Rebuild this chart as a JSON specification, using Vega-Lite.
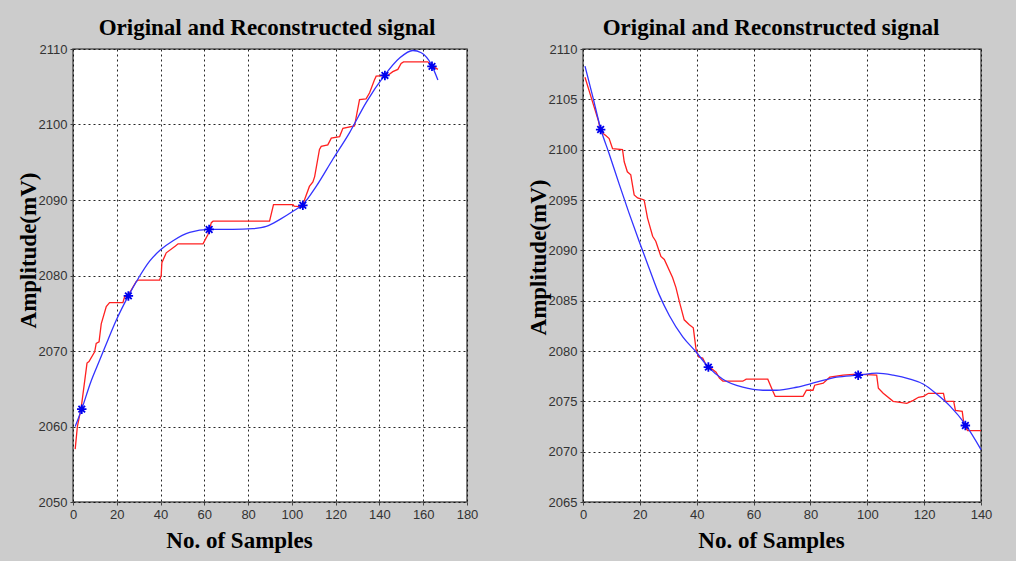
{
  "$schema": "https://vega.github.io/schema/vega-lite/v6.json",
  "background": "#cccccc",
  "autosize": {"type": "pad"},
  "padding": {"left": 16, "top": 16, "right": 25, "bottom": 16},
  "bounds": "flush",
  "spacing": 116,
  "datasets": {
    "leftOrig": [
      {"x": 1, "y": 2057}, {"x": 2, "y": 2060}, {"x": 3.8, "y": 2062.6}, {"x": 6.4, "y": 2068.4}, {"x": 7.3, "y": 2068.6},
      {"x": 9.9, "y": 2069.9}, {"x": 10.6, "y": 2071}, {"x": 11.9, "y": 2071.2}, {"x": 12.9, "y": 2073.6}, {"x": 15.2, "y": 2075.9},
      {"x": 16.7, "y": 2076.4}, {"x": 22.8, "y": 2076.4}, {"x": 23.6, "y": 2077.2}, {"x": 25.1, "y": 2077.3}, {"x": 28.9, "y": 2079.2},
      {"x": 29.8, "y": 2079.4}, {"x": 39.6, "y": 2079.4}, {"x": 40.3, "y": 2080}, {"x": 40.6, "y": 2081.7}, {"x": 42.6, "y": 2083},
      {"x": 46.8, "y": 2083.9}, {"x": 48, "y": 2084.2}, {"x": 59.4, "y": 2084.2}, {"x": 61.6, "y": 2085.4}, {"x": 63.2, "y": 2087},
      {"x": 64, "y": 2087.2}, {"x": 89.8, "y": 2087.2}, {"x": 91.6, "y": 2089.4}, {"x": 100.5, "y": 2089.4}, {"x": 101, "y": 2089.2},
      {"x": 104.3, "y": 2089.1}, {"x": 105, "y": 2089.4}, {"x": 108, "y": 2091.8}, {"x": 109.6, "y": 2092.4}, {"x": 110.4, "y": 2093.1},
      {"x": 112.6, "y": 2096.7}, {"x": 113.4, "y": 2097.1}, {"x": 116.4, "y": 2097.3}, {"x": 118, "y": 2098.2}, {"x": 121.8, "y": 2098.4},
      {"x": 123.3, "y": 2099.5}, {"x": 128.6, "y": 2099.8}, {"x": 130.9, "y": 2103.3}, {"x": 133.9, "y": 2103.4}, {"x": 135.5, "y": 2104.2},
      {"x": 137.7, "y": 2105.9}, {"x": 138.5, "y": 2106.4}, {"x": 143.8, "y": 2106.5}, {"x": 146.1, "y": 2107}, {"x": 148.4, "y": 2107.3},
      {"x": 149.9, "y": 2108.1}, {"x": 151, "y": 2108.3}, {"x": 162.1, "y": 2108.3}, {"x": 164.4, "y": 2107.7}, {"x": 166.7, "y": 2107.3}
    ],
    "leftRecon": [
      {"x": 1, "y": 2060}, {"x": 4, "y": 2062.3}, {"x": 8, "y": 2065.8}, {"x": 12.2, "y": 2068.8}, {"x": 16, "y": 2071.5},
      {"x": 19.8, "y": 2074.1}, {"x": 25.3, "y": 2077.3}, {"x": 30, "y": 2079.7}, {"x": 35, "y": 2081.9}, {"x": 40, "y": 2083.4},
      {"x": 45.7, "y": 2084.6}, {"x": 53.3, "y": 2085.7}, {"x": 62.4, "y": 2086.1}, {"x": 73, "y": 2086.1}, {"x": 82.2, "y": 2086.2},
      {"x": 88.3, "y": 2086.5}, {"x": 94.4, "y": 2087.4}, {"x": 100.5, "y": 2088.5}, {"x": 105, "y": 2089.4}, {"x": 111.1, "y": 2091.8},
      {"x": 118.7, "y": 2095.4}, {"x": 126.3, "y": 2098.9}, {"x": 133.9, "y": 2102.9}, {"x": 142.3, "y": 2106.5}, {"x": 149.2, "y": 2108.8},
      {"x": 155.3, "y": 2109.8}, {"x": 159.1, "y": 2109.5}, {"x": 163.6, "y": 2108}, {"x": 166.7, "y": 2105.9}
    ],
    "leftStars": [
      {"x": 4, "y": 2062.3}, {"x": 25.3, "y": 2077.3}, {"x": 62.2, "y": 2086.1}, {"x": 105, "y": 2089.3}, {"x": 142.5, "y": 2106.5}, {"x": 164, "y": 2107.7}
    ],
    "rightOrig": [
      {"x": 0.7, "y": 2107.2}, {"x": 3.3, "y": 2104.8}, {"x": 5.4, "y": 2102.9}, {"x": 6.2, "y": 2101.8}, {"x": 8, "y": 2101.4},
      {"x": 9.2, "y": 2101.1}, {"x": 10.4, "y": 2100.1}, {"x": 13.9, "y": 2100}, {"x": 14.5, "y": 2098.8}, {"x": 15.6, "y": 2097.8},
      {"x": 16.8, "y": 2097.5}, {"x": 18, "y": 2095.5}, {"x": 19.2, "y": 2095.2}, {"x": 21.5, "y": 2095}, {"x": 22.7, "y": 2093.2},
      {"x": 24.5, "y": 2091.4}, {"x": 25.6, "y": 2090.9}, {"x": 27.4, "y": 2089.4}, {"x": 28.6, "y": 2089.1}, {"x": 31.5, "y": 2087.3},
      {"x": 32.7, "y": 2086.3}, {"x": 33.9, "y": 2084.9}, {"x": 35.6, "y": 2083.1}, {"x": 37.4, "y": 2082.6}, {"x": 38.8, "y": 2082.3},
      {"x": 39.8, "y": 2080.1}, {"x": 40.7, "y": 2079.4}, {"x": 42.1, "y": 2079.3}, {"x": 43.3, "y": 2078.6}, {"x": 44.5, "y": 2078.4},
      {"x": 46.8, "y": 2077.9}, {"x": 48, "y": 2077.3}, {"x": 49.2, "y": 2077}, {"x": 56.2, "y": 2077}, {"x": 57.4, "y": 2077.2},
      {"x": 65, "y": 2077.2}, {"x": 66.8, "y": 2076}, {"x": 67.6, "y": 2075.5}, {"x": 77.4, "y": 2075.5}, {"x": 78.6, "y": 2076.1},
      {"x": 80.9, "y": 2076.1}, {"x": 81.5, "y": 2076.6}, {"x": 84.5, "y": 2076.8}, {"x": 86.8, "y": 2077.4}, {"x": 91.5, "y": 2077.6},
      {"x": 96.2, "y": 2077.7}, {"x": 103.3, "y": 2077.6}, {"x": 103.9, "y": 2076.3}, {"x": 105.6, "y": 2075.8}, {"x": 109.1, "y": 2075},
      {"x": 113.9, "y": 2074.8}, {"x": 116.2, "y": 2075.1}, {"x": 118, "y": 2075.4}, {"x": 119.8, "y": 2075.5}, {"x": 121.5, "y": 2075.8},
      {"x": 126.8, "y": 2075.8}, {"x": 127.4, "y": 2075}, {"x": 130.4, "y": 2075}, {"x": 131, "y": 2074.1}, {"x": 133.4, "y": 2074},
      {"x": 134, "y": 2072.7}, {"x": 135.3, "y": 2072.1}, {"x": 140, "y": 2072.1}
    ],
    "rightRecon": [
      {"x": 0.7, "y": 2108.3}, {"x": 3.5, "y": 2105.2}, {"x": 6.2, "y": 2102.1}, {"x": 9.2, "y": 2099.6}, {"x": 12.7, "y": 2096.6},
      {"x": 16.2, "y": 2093.7}, {"x": 20, "y": 2090.7}, {"x": 23.3, "y": 2088.2}, {"x": 26.8, "y": 2085.6},
      {"x": 30.4, "y": 2083.5}, {"x": 35.1, "y": 2081.4}, {"x": 39.8, "y": 2079.9}, {"x": 44.1, "y": 2078.4}, {"x": 49.2, "y": 2077.2},
      {"x": 56.2, "y": 2076.4}, {"x": 63.3, "y": 2076.1}, {"x": 68, "y": 2076.1}, {"x": 75.1, "y": 2076.4}, {"x": 82.1, "y": 2076.9},
      {"x": 89.2, "y": 2077.4}, {"x": 96.8, "y": 2077.6}, {"x": 103.3, "y": 2077.8}, {"x": 109.1, "y": 2077.6}, {"x": 115, "y": 2077.2},
      {"x": 119.8, "y": 2076.7}, {"x": 124.5, "y": 2075.7}, {"x": 129.2, "y": 2074.5}, {"x": 134.5, "y": 2072.7}, {"x": 140, "y": 2070.2}
    ],
    "rightStars": [
      {"x": 6.2, "y": 2102}, {"x": 44.1, "y": 2078.4}, {"x": 96.8, "y": 2077.6}, {"x": 134.5, "y": 2072.6}
    ]
  },
  "hconcat": [
    {
      "width": 394,
      "height": 453,
      "title": {"text": "Original and Reconstructed signal", "dx": -3},
      "encoding": {
        "x": {"field": "x", "type": "quantitative", "scale": {"domain": [0, 180], "nice": false, "zero": false},
              "axis": {"values": [0, 20, 40, 60, 80, 100, 120, 140, 160, 180], "format": "d", "title": "No. of Samples", "titleX": 166, "titleY": 45}},
        "y": {"field": "y", "type": "quantitative", "scale": {"domain": [2050, 2110], "nice": false, "zero": false},
              "axis": {"values": [2050, 2060, 2070, 2080, 2090, 2100, 2110], "format": "d", "title": "Amplitude(mV)", "titleX": -45, "titleY": 201}}
      },
      "layer": [
        {"data": {"name": "leftOrig"}, "mark": {"type": "line", "color": "#ff2020", "strokeWidth": 1.3}},
        {"data": {"name": "leftRecon"}, "mark": {"type": "line", "color": "#3333ff", "strokeWidth": 1.3, "interpolate": "monotone"}},
        {"data": {"name": "leftStars"}, "mark": {"type": "point", "shape": "M-1,0L1,0M0,-1L0,1M-0.7,-0.7L0.7,0.7M-0.7,0.7L0.7,-0.7", "size": 90, "stroke": "#0000ee", "strokeWidth": 1.8, "filled": false, "opacity": 1}}
      ]
    },
    {
      "width": 398,
      "height": 453,
      "title": {"text": "Original and Reconstructed signal", "dx": -11},
      "encoding": {
        "x": {"field": "x", "type": "quantitative", "scale": {"domain": [0, 140], "nice": false, "zero": false},
              "axis": {"values": [0, 20, 40, 60, 80, 100, 120, 140], "format": "d", "title": "No. of Samples", "titleX": 188, "titleY": 45}},
        "y": {"field": "y", "type": "quantitative", "scale": {"domain": [2065, 2110], "nice": false, "zero": false},
              "axis": {"values": [2065, 2070, 2075, 2080, 2085, 2090, 2095, 2100, 2105, 2110], "format": "d", "title": "Amplitude(mV)", "titleX": -45, "titleY": 208}}
      },
      "layer": [
        {"data": {"name": "rightOrig"}, "mark": {"type": "line", "color": "#ff2020", "strokeWidth": 1.3}},
        {"data": {"name": "rightRecon"}, "mark": {"type": "line", "color": "#3333ff", "strokeWidth": 1.3, "interpolate": "monotone"}},
        {"data": {"name": "rightStars"}, "mark": {"type": "point", "shape": "M-1,0L1,0M0,-1L0,1M-0.7,-0.7L0.7,0.7M-0.7,0.7L0.7,-0.7", "size": 90, "stroke": "#0000ee", "strokeWidth": 1.8, "filled": false, "opacity": 1}}
      ]
    }
  ],
  "config": {
    "view": {"fill": "white", "stroke": "#555555", "strokeWidth": 1.5},
    "axis": {
      "grid": true, "gridColor": "#000000", "gridDash": [2, 3], "gridOpacity": 0.85, "gridWidth": 1,
      "domain": false, "ticks": true, "tickColor": "#444444", "tickSize": 3,
      "labelFont": "Liberation Sans Narrow, Liberation Sans", "labelFontSize": 13, "labelColor": "#333333", "labelPadding": 3,
      "labelFlush": false, "labelOverlap": false,
      "titleFont": "Liberation Serif", "titleFontWeight": "bold", "titleFontSize": 23, "titleColor": "#000000"
    },
    "axisX": {"titleBaseline": "alphabetic", "titleAnchor": "middle", "titleAlign": "center"},
    "axisY": {"titleBaseline": "middle", "titleAlign": "center", "titleAngle": -90},
    "title": {"font": "Liberation Serif", "fontWeight": "bold", "fontSize": 23, "color": "#000000", "anchor": "middle", "offset": 3}
  }
}
